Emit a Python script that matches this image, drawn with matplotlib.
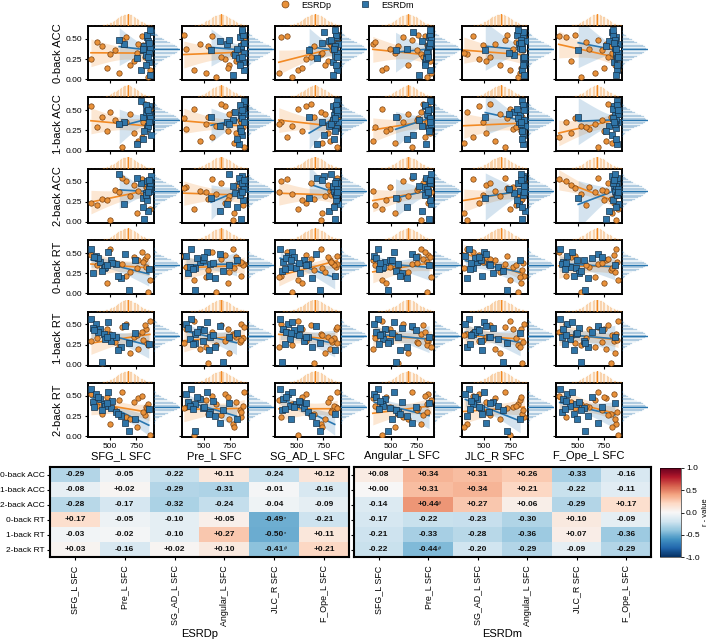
import numpy as np
import matplotlib
matplotlib.use("Agg")  # headless
import matplotlib.pyplot as plt
from matplotlib.lines import Line2D

plt.rcParams["font.family"] = ["Liberation Sans", "DejaVu Sans"]

regions = ["SFG_L SFC", "Pre_L SFC", "SG_AD_L SFC", "Angular_L SFC", "JLC_R SFC", "F_Ope_L SFC"]
tasks = ["0-back ACC", "1-back ACC", "2-back ACC", "0-back RT", "1-back RT", "2-back RT"]

# SFC values (x) per region, ESRDp
esrdp_x = [
    [842, 318, 655, 771, 503, 866, 612, 428, 729, 880, 548, 805, 690, 377, 834, 590, 758, 852, 471, 817],
    [336, 701, 858, 462, 781, 624, 889, 540, 812, 405, 846, 577, 748, 873, 669, 520, 795, 312, 732, 860],
    [868, 590, 344, 812, 725, 457, 881, 663, 795, 512, 838, 402, 770, 855, 631, 326, 740, 884, 548, 820],
    [498, 860, 623, 331, 790, 844, 705, 572, 878, 416, 752, 829, 665, 354, 811, 889, 540, 760, 455, 853],
    [774, 452, 885, 609, 340, 826, 698, 861, 515, 748, 876, 398, 655, 803, 560, 839, 307, 721, 852, 488],
    [612, 845, 388, 771, 870, 529, 694, 818, 442, 887, 735, 321, 856, 580, 792, 663, 833, 476, 749, 878],
]
# SFC values (x) per region, ESRDm, accuracy sample
esrdm_x_acc = [
    [812, 856, 871, 634, 889, 843, 797, 865, 878, 760, 852, 884, 827, 869, 588, 846, 880, 815, 862, 874],
    [572, 846, 880, 721, 868, 803, 889, 655, 857, 835, 876, 784, 862, 887, 744, 851, 872, 820, 866, 883],
    [616, 873, 839, 888, 760, 861, 882, 807, 855, 690, 877, 845, 866, 884, 826, 870, 858, 849, 879, 735],
    [548, 870, 829, 886, 712, 855, 876, 798, 862, 842, 881, 769, 867, 850, 888, 834, 873, 659, 858, 879],
    [512, 868, 884, 835, 875, 790, 858, 889, 846, 872, 812, 880, 861, 741, 853, 877, 828, 866, 885, 849],
    [507, 872, 851, 886, 829, 864, 878, 803, 857, 881, 843, 869, 776, 884, 860, 873, 836, 866, 889, 852],
]
# SFC values (x) per region, ESRDm, reaction-time sample
esrdm_x_rt = [
    [318, 362, 405, 441, 478, 512, 337, 560, 389, 603, 455, 642, 426, 520, 685, 350, 575, 470, 735, 870],
    [384, 332, 467, 415, 530, 498, 351, 562, 440, 610, 372, 655, 690, 588, 423, 505, 548, 740, 815, 395],
    [340, 412, 371, 489, 456, 567, 525, 602, 398, 640, 433, 681, 358, 518, 722, 470, 860, 584, 445, 390],
    [381, 345, 452, 418, 537, 494, 612, 576, 366, 655, 428, 705, 551, 402, 476, 748, 589, 868, 511, 392],
    [358, 322, 431, 397, 503, 469, 590, 548, 415, 341, 632, 521, 678, 377, 719, 456, 484, 562, 845, 370],
    [330, 402, 366, 481, 447, 558, 519, 349, 643, 598, 425, 692, 533, 389, 575, 731, 462, 856, 497, 381],
]
# behavioural scores (y) per task
esrdp_y = [
    [0.38, 0.25, 0.52, 0.44, 0.31, 0.03, 0.49, 0.41, 0.22, 0.12, 0.36, 0.53, 0.18, 0.46, 0.28, 0.08, 0.33, 0.55, 0.14, 0.42],
    [0.27, 0.55, 0.35, 0.12, 0.48, 0.31, 0.05, 0.42, 0.22, 0.51, 0.38, 0.17, 0.45, 0.29, 0.58, 0.33, 0.09, 0.40, 0.24, 0.36],
    [0.43, 0.24, 0.51, 0.38, 0.02, 0.35, 0.55, 0.29, 0.46, 0.16, 0.40, 0.53, 0.32, 0.21, 0.48, 0.37, 0.11, 0.42, 0.27, 0.34],
    [0.33, 0.48, 0.22, 0.41, 0.55, 0.02, 0.36, 0.29, 0.45, 0.17, 0.38, 0.51, 0.26, 0.35, 0.43, 0.20, 0.31, 0.47, 0.13, 0.39],
    [0.44, 0.30, 0.51, 0.19, 0.38, 0.25, 0.47, 0.02, 0.35, 0.54, 0.28, 0.41, 0.15, 0.33, 0.49, 0.22, 0.37, 0.27, 0.45, 0.31],
    [0.36, 0.52, 0.24, 0.47, 0.15, 0.40, 0.55, 0.28, 0.43, 0.02, 0.33, 0.50, 0.21, 0.38, 0.26, 0.45, 0.12, 0.35, 0.49, 0.30],
]
esrdm_y = [
    [0.36, 0.52, 0.21, 0.44, 0.58, 0.30, 0.12, 0.47, 0.39, 0.26, 0.55, 0.05, 0.41, 0.33, 0.49, 0.18, 0.61, 0.37, 0.28, 0.45],
    [0.42, 0.28, 0.55, 0.35, 0.19, 0.48, 0.61, 0.31, 0.44, 0.08, 0.52, 0.38, 0.24, 0.46, 0.33, 0.57, 0.40, 0.15, 0.50, 0.36],
    [0.30, 0.51, 0.43, 0.22, 0.57, 0.36, 0.48, 0.14, 0.39, 0.54, 0.27, 0.45, 0.04, 0.41, 0.60, 0.33, 0.49, 0.19, 0.37, 0.52],
    [0.55, 0.47, 0.39, 0.31, 0.51, 0.42, 0.25, 0.36, 0.44, 0.19, 0.33, 0.49, 0.28, 0.38, 0.04, 0.45, 0.22, 0.35, 0.41, 0.30],
    [0.57, 0.50, 0.44, 0.38, 0.53, 0.29, 0.46, 0.35, 0.41, 0.22, 0.32, 0.48, 0.03, 0.37, 0.27, 0.43, 0.18, 0.34, 0.40, 0.26],
    [0.58, 0.52, 0.46, 0.40, 0.55, 0.35, 0.43, 0.30, 0.49, 0.25, 0.38, 0.16, 0.33, 0.44, 0.06, 0.36, 0.27, 0.41, 0.21, 0.34],
]

# correlation matrices (rows = tasks, cols = regions)
r_esrdp = [
    [-0.29, -0.05, -0.22, 0.11, -0.24, 0.12],
    [-0.08, 0.02, -0.29, -0.31, -0.01, -0.16],
    [-0.28, -0.17, -0.32, -0.24, -0.04, -0.09],
    [0.17, -0.05, -0.10, 0.05, -0.49, -0.21],
    [-0.03, -0.02, -0.10, 0.27, -0.50, 0.11],
    [0.03, -0.16, 0.02, 0.10, -0.41, 0.21],
]
sig_esrdp = [
    ["", "", "", "", "", ""],
    ["", "", "", "", "", ""],
    ["", "", "", "", "", ""],
    ["", "", "", "", "*", ""],
    ["", "", "", "", "*", ""],
    ["", "", "", "", "#", ""],
]
r_esrdm = [
    [0.08, 0.34, 0.31, 0.26, -0.33, -0.16],
    [0.00, 0.31, 0.34, 0.21, -0.22, -0.11],
    [-0.14, 0.44, 0.27, 0.06, -0.29, 0.17],
    [-0.17, -0.22, -0.23, -0.30, 0.10, -0.09],
    [-0.21, -0.33, -0.28, -0.36, 0.07, -0.36],
    [-0.22, -0.44, -0.20, -0.29, -0.09, -0.29],
]
sig_esrdm = [
    ["", "", "", "", "", ""],
    ["", "", "", "", "", ""],
    ["", "#", "", "", "", ""],
    ["", "", "", "", "", ""],
    ["", "", "", "", "", ""],
    ["", "#", "", "", "", ""],
]

ORANGE = "#f28a24"
BLUE = "#2a77b0"

W, H = 709, 641
fig = plt.figure(figsize=(W / 100, H / 100), dpi=100)


def px_axes(x0, y0, x1, y1):
    return fig.add_axes([x0 / W, 1 - y1 / H, (x1 - x0) / W, (y1 - y0) / H])


def bell(v, grid, shrink):
    # smooth marginal shape from the sample's mean / spread
    sd = v.std() * shrink
    return np.exp(-0.5 * ((grid - v.mean()) / sd) ** 2)


def fit_ci(x, y, xs):
    n = len(x)
    b, a = np.polyfit(x, y, 1)
    resid = y - (a + b * x)
    s = np.sqrt((resid ** 2).sum() / (n - 2))
    se = s * np.sqrt(1 / n + (xs - x.mean()) ** 2 / ((x - x.mean()) ** 2).sum())
    yhat = a + b * xs
    return yhat, yhat - 2.1 * se, yhat + 2.1 * se


XLIM = (290, 920)
YLIM = (-0.01, 0.66)

for i, task in enumerate(tasks):
    for j, reg in enumerate(regions):
        left = 88 + 93.5 * j
        top = 26 + 71.4 * i
        ax = px_axes(left, top, left + 66, top + 54)

        xp = np.array(esrdp_x[j], float)
        yp = np.array(esrdp_y[i], float)
        xm = np.array(esrdm_x_acc[j] if i < 3 else esrdm_x_rt[j], float)
        ym = np.array(esrdm_y[i], float)

        for x, y, c in [(xp, yp, ORANGE), (xm, ym, BLUE)]:
            xs = np.linspace(x.min(), x.max(), 60)
            yhat, lo, hi = fit_ci(x, y, xs)
            ax.fill_between(xs, lo, hi, color=c, alpha=0.2, lw=0)
            ax.plot(xs, yhat, color=c, lw=1.2)
        ax.scatter(xp, yp, s=15, marker="o", facecolor="#e8913a", edgecolor="#7a4210",
                   linewidth=0.5, zorder=3)
        ax.scatter(xm, ym, s=15, marker="s", facecolor="#2f75a8", edgecolor="#16324a",
                   linewidth=0.5, zorder=4)

        ax.set_xlim(*XLIM)
        ax.set_ylim(*YLIM)
        ax.set_xticks([500, 750])
        ax.set_yticks([0.0, 0.25, 0.5])
        for sp in ax.spines.values():
            sp.set_linewidth(1.4)
        ax.tick_params(length=2.5, width=0.8, labelsize=6, pad=1.5)
        if j == 0:
            ax.set_yticklabels(["0.00", "0.25", "0.50"])
            ax.set_ylabel(task, fontsize=8, labelpad=2)
        else:
            ax.set_yticklabels([])
        if i == len(tasks) - 1:
            ax.set_xticklabels(["500", "750"])
            ax.set_xlabel(reg, fontsize=8, labelpad=1)
        else:
            ax.set_xticklabels([])

        # marginal of ESRDp on top
        axt = px_axes(left, top - 12, left + 66, top)
        gx = np.linspace(XLIM[0], XLIM[1], 48)
        axt.bar(gx, bell(xp, gx, 0.55), width=(gx[1] - gx[0]) * 0.6, color=ORANGE,
                alpha=0.25, edgecolor=ORANGE, linewidth=0.3)
        axt.axvline(xp.mean(), color=ORANGE, lw=1)
        axt.set_xlim(*XLIM)
        axt.set_ylim(0, 1.05)
        axt.axis("off")

        # marginal of ESRDm on the right
        axr = px_axes(left + 66, top, left + 92, top + 54)
        gy = np.linspace(YLIM[0], YLIM[1], 40)
        axr.barh(gy, bell(ym, gy, 0.6), height=(gy[1] - gy[0]) * 0.6, color=BLUE,
                 alpha=0.25, edgecolor=BLUE, linewidth=0.3)
        axr.axhline(ym.mean(), color=BLUE, lw=1)
        axr.set_ylim(*YLIM)
        axr.set_xlim(0, 1.05)
        axr.axis("off")

# heatmaps
for k, (vals, sig, name, box) in enumerate([
    (r_esrdp, sig_esrdp, "ESRDp", (50, 467, 349, 557)),
    (r_esrdm, sig_esrdm, "ESRDm", (354, 467, 651, 557)),
]):
    axh = px_axes(*box)
    im = axh.imshow(np.array(vals), cmap="RdBu_r", vmin=-1, vmax=1, aspect="auto")
    for r in range(len(tasks)):
        for c in range(len(regions)):
            v = vals[r][c]
            axh.text(c, r, f"{v:+.2f}", ha="center", va="center", fontsize=6,
                     fontweight="bold", color="#111111")
            if sig[r][c]:
                axh.text(c + 0.2, r - 0.05, sig[r][c], ha="left", va="center", fontsize=4,
                         color="#111111")
    axh.set_xticks(range(len(regions)))
    axh.set_xticklabels(regions, rotation=90, fontsize=6.4)
    axh.set_yticks(range(len(tasks)))
    if k == 0:
        axh.set_yticklabels(tasks, fontsize=6)
        axh.tick_params(axis="y", pad=1.5)
    else:
        axh.set_yticklabels([])
        axh.tick_params(axis="y", length=0)
    axh.tick_params(length=2.5, width=0.8)
    axh.set_xlabel(name, fontsize=8, labelpad=2)
    for sp in axh.spines.values():
        sp.set_linewidth(1.5)

cax = px_axes(660, 468, 681, 557)
cb = fig.colorbar(im, cax=cax, ticks=[-1, -0.5, 0, 0.5, 1])
cb.ax.set_yticklabels(["-1.0", "-0.5", "0.0", "0.5", "1.0"])
cb.ax.tick_params(labelsize=6, length=2, width=0.6, pad=1.5)
cb.outline.set_linewidth(0.4)
cb.set_label("r - value", fontsize=5.5, labelpad=1)

handles = [
    Line2D([], [], marker="o", ls="", markersize=5, markerfacecolor="#e8913a",
           markeredgecolor="#7a4210", markeredgewidth=0.5),
    Line2D([], [], marker="s", ls="", markersize=5, markerfacecolor="#2f75a8",
           markeredgecolor="#16324a", markeredgewidth=0.5),
]
fig.legend(handles, ["ESRDp", "ESRDm"], loc="center", bbox_to_anchor=(345 / W, 1 - 5 / H),
           ncol=2, frameon=False, fontsize=6.5, columnspacing=2.8, handletextpad=0.8,
           borderpad=0, borderaxespad=0)

fig.savefig("out.png", dpi=100)
